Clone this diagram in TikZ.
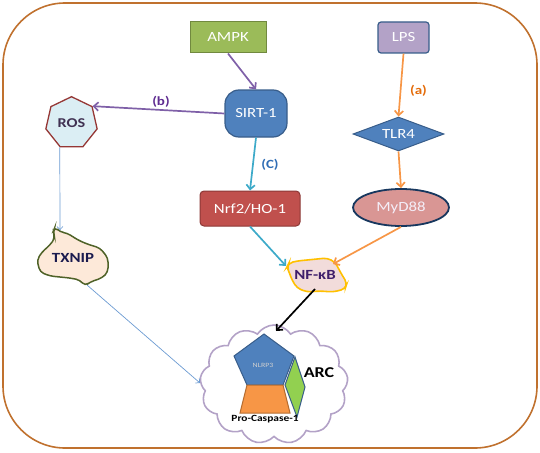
\documentclass[tikz,border=0pt]{standalone}
\usepackage{fontspec}
\setmainfont{Carlito}[FakeStretch=1.2]
\usetikzlibrary{shapes.geometric,shapes.symbols,arrows.meta}
\definecolor{borderc}{HTML}{C0712E}
\definecolor{ampkfill}{HTML}{9BBB59}
\definecolor{ampkline}{HTML}{71893F}
\definecolor{blueline}{HTML}{385D8A}
\definecolor{lpsfill}{HTML}{B3A2C7}
\definecolor{sirtfill}{HTML}{4F81BD}
\definecolor{rosfill}{HTML}{DBEEF4}
\definecolor{rosline}{HTML}{953735}
\definecolor{darkpurple}{HTML}{403152}
\definecolor{nrffill}{HTML}{C0504D}
\definecolor{nrfline}{HTML}{8C3836}
\definecolor{mydfill}{HTML}{D99694}
\definecolor{mydline}{HTML}{17375E}
\definecolor{nffill}{HTML}{F2DCDB}
\definecolor{nfline}{HTML}{FFC000}
\definecolor{nftext}{HTML}{3F1F6B}
\definecolor{txfill}{HTML}{FDE9D9}
\definecolor{txline}{HTML}{4F6228}
\definecolor{txtext}{HTML}{1B1B4F}
\definecolor{purpleline}{HTML}{7F60A8}
\definecolor{blabel}{HTML}{5F2C91}
\definecolor{cyanline}{HTML}{3DAAC9}
\definecolor{clabel}{HTML}{2F6DB5}
\definecolor{orangeline}{HTML}{F79646}
\definecolor{alabel}{HTML}{E46C0A}
\definecolor{thinblue}{HTML}{6C9BD2}
\definecolor{cloudline}{HTML}{B3A2C7}
\definecolor{trapfill}{HTML}{F79646}
\definecolor{trapline}{HTML}{B66D31}
\definecolor{greenfill}{HTML}{92D050}
\definecolor{nlrptext}{HTML}{D0D0D0}
\definecolor{mydtext}{HTML}{F4EEF8}
\begin{document}
\begin{tikzpicture}[x=1pt,y=-1pt]
\tikzset{
  lbl/.style={text=white, font=\fontsize{14}{16}\selectfont},
  arr/.style={line width=1.7pt, -{Straight Barb[length=4.5pt,width=8.5pt]}},
  thinarr/.style={line width=0.7pt, -{Straight Barb[length=3pt,width=6pt]}},
  steplabel/.style={font=\bfseries\fontsize{12.5}{14}\selectfont, inner sep=0pt},
}
\useasboundingbox (0,0) rectangle (540,452);
% outer frame
\draw[line width=1.6pt, draw=borderc, rounded corners=62pt] (3,3) rectangle (537,448);

% boxes
\node[draw=ampkline, fill=ampkfill, line width=1pt, minimum width=76pt, minimum height=31pt, lbl] (ampk) at (228,37.5) {AMPK};
\node[draw=blueline, fill=lpsfill, rounded corners=3pt, line width=1.2pt, minimum width=51pt, minimum height=31pt, lbl] (lps) at (403.5,37.5) {LPS};
\node[draw=blueline, fill=sirtfill, rounded corners=14pt, line width=1.2pt, minimum width=62pt, minimum height=47pt, lbl] (sirt) at (256,113.5) {SIRT-1};
\node[regular polygon, regular polygon sides=7, minimum size=52.6pt, inner sep=0pt, draw=rosline, fill=rosfill, line width=1.3pt, text=darkpurple, font=\bfseries\fontsize{13.5}{15}\selectfont] (ros) at (71.5,123) {ROS};
\node[draw=nrfline, fill=nrffill, rounded corners=4pt, line width=1pt, minimum width=100pt, minimum height=35pt, lbl] (nrf) at (250,208.5) {Nrf2/HO-1};
\node[diamond, aspect=2.6, minimum width=91pt, minimum height=34pt, inner sep=0pt, draw=blueline, fill=sirtfill, line width=1pt, lbl] (tlr) at (398.5,134) {TLR4};
\node[ellipse, minimum width=96pt, minimum height=37pt, draw=mydline, fill=mydfill, line width=1.8pt, lbl, text=mydtext] (myd) at (401,207.5) {MyD88};

% TXNIP blob
\filldraw[fill=txfill, draw=txline, line width=1.5pt, rounded corners=4pt]
  (55,227) -- (60,232) -- (67,233) -- (78,240) -- (87,244) -- (100,248) -- (108,258) -- (108,272) -- (102,278) -- (90,282) -- (85,286) -- (80,280) -- (70,278) -- (50,276) -- (40,272) -- (37,260) -- (42,252) -- (50,245) -- (55,238) -- (53,232) -- cycle;
\node[text=txtext, font=\bfseries\fontsize{14}{16}\selectfont, inner sep=1pt] (txnip) at (73,258) {TXNIP};

% NF-kB blob
\filldraw[fill=nffill, draw=nfline, line width=1.6pt, rounded corners=4pt]
  (289,263) -- (297,261) -- (307,260) -- (317,259) -- (327,258) -- (335,262) -- (342,275) -- (347,283) -- (345,289) -- (333,292) -- (320,291) -- (307,292) -- (297,288) -- (292,280) -- (289,272) -- (287,267) -- cycle;
\node[text=nftext, font=\bfseries\fontsize{14}{16}\selectfont, inner sep=0pt, minimum width=40pt, minimum height=22pt] (nfkb) at (315,275) {NF-κB};

% ARC cloud
\node[cloud, cloud puffs=13, cloud puff arc=115, aspect=1.25, minimum width=148pt, minimum height=119pt, draw=cloudline, fill=white, line width=1.6pt] (arc) at (274,384.5) {};
\filldraw[fill=sirtfill, draw=blueline, line width=1pt] (264,334) -- (294,356) -- (283,385) -- (247,385) -- (234,356) -- cycle;
\filldraw[fill=trapfill, draw=trapline, line width=1pt] (247,385) -- (283,385) -- (290,413) -- (240,413) -- cycle;
\filldraw[fill=greenfill, draw=blueline, line width=1pt] (295,357) -- (305,387) -- (297,417) -- (285,385) -- cycle;
\node[text=nlrptext, font=\fontsize{6.5}{7}\selectfont, inner sep=0pt] (nlrp) at (263,365) {NLRP3};
\node[font=\bfseries\fontsize{9.5}{11}\selectfont, inner sep=0pt] (procasp) at (265,419) {Pro-Caspase-1};
\node[font=\bfseries\fontsize{15}{17}\selectfont, inner sep=0pt] (arclbl) at (319,373) {ARC};

% connector end points
\coordinate (txtop) at (60,230);
\coordinate (txbot) at (87,285);
\coordinate (nfA) at (286,266);
\coordinate (nfB) at (333,264);
\coordinate (nfC) at (315,289);
\coordinate (arcA) at (276,331);
\coordinate (arcB) at (200,383);

% connectors
\draw[arr, purpleline] (ampk.south) -- (sirt.north);
\draw[arr, purpleline] (sirt.west) -- (ros.corner 7);
\draw[thinarr, thinblue] (ros.corner 4) -- (txtop);
\draw[arr, cyanline] (sirt.south) -- (nrf.north);
\draw[arr, cyanline] (nrf.south) -- (nfA);
\draw[arr, orangeline] (lps.south) -- (tlr.north);
\draw[arr, orangeline] (tlr.south) -- (myd.north);
\draw[arr, orangeline] (myd.south) -- (nfB);
\draw[arr, black] (nfC) -- (arcA);
\draw[thinarr, thinblue] (txbot) -- (arcB);

% step labels
\node[steplabel, text=blabel] (lb) at (161,102) {(b)};
\node[steplabel, text=clabel] (lc) at (270,165) {(C)};
\node[steplabel, text=alabel] (la) at (418.5,91) {(a)};
\end{tikzpicture}
\end{document}
